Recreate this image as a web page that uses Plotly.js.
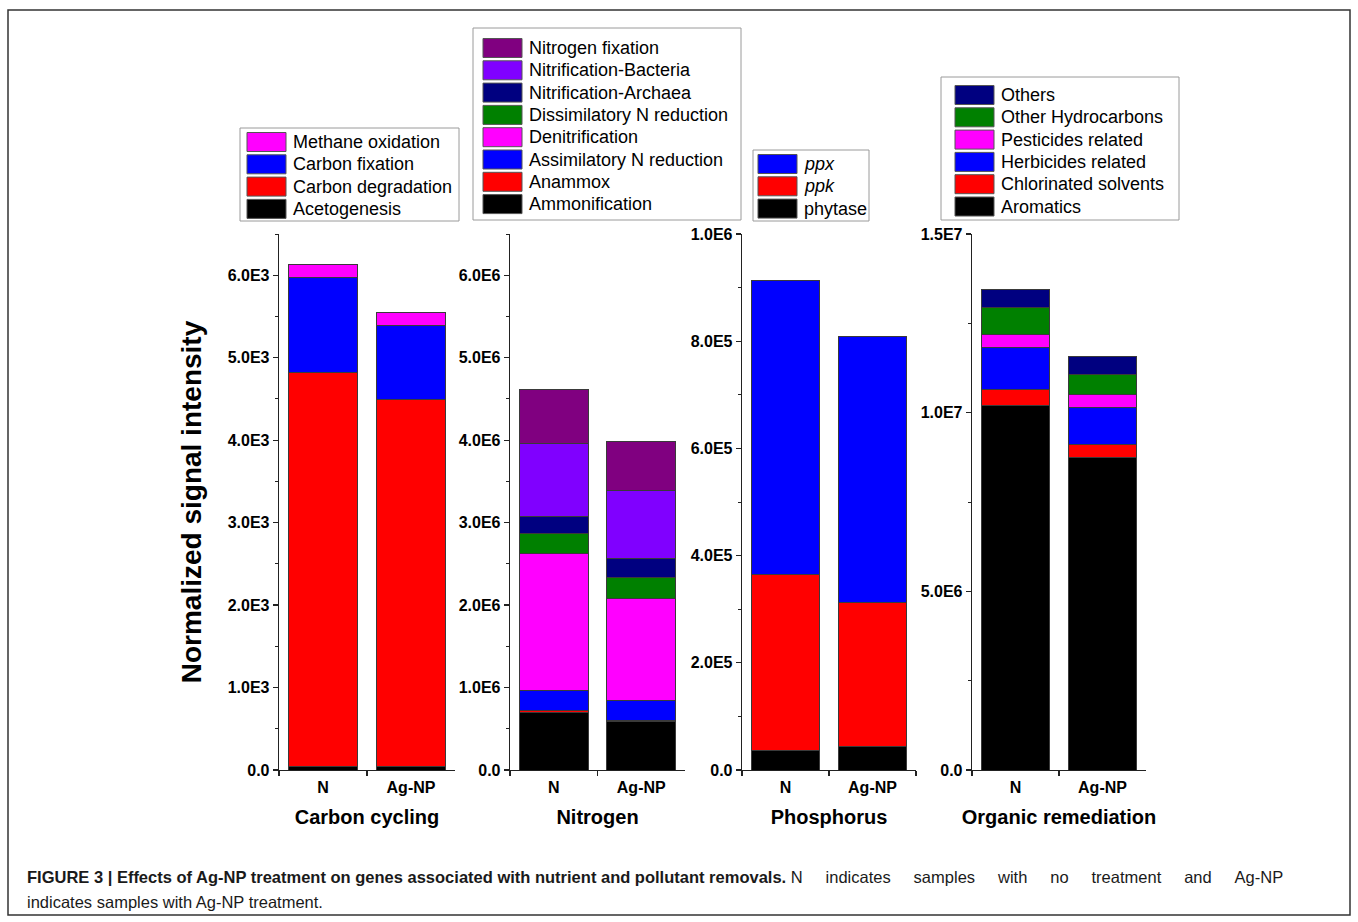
<!DOCTYPE html>
<html>
<head>
<meta charset="utf-8">
<script src="https://cdn.plot.ly/plotly-3.0.1.min.js"></script>
<style>html,body{margin:0;padding:0;background:#fff;}#chart{width:1358px;height:922px;}</style>
</head>
<body>
<div id="chart"></div>
<script>
// ---------------- DATA ----------------
const categories = ['N', 'Ag-NP'];

// Carbon cycling (stack order bottom -> top)
const carbonNames = ['Acetogenesis', 'Carbon degradation', 'Carbon fixation', 'Methane oxidation'];
const acetogenesis = [45, 45];
const carbonDegradation = [4775, 4445];
const carbonFixation = [1150, 900];
const methaneOxidation = [160, 160];

// Nitrogen
const nitrogenNames = ['Ammonification', 'Anammox', 'Assimilatory N reduction', 'Denitrification',
  'Dissimilatory N reduction', 'Nitrification-Archaea', 'Nitrification-Bacteria', 'Nitrogen fixation'];
const ammonification = [700000, 590000];
const anammox = [20000, 12000];
const assimilatoryN = [240000, 243000];
const denitrification = [1670000, 1235000];
const dissimilatoryN = [240000, 255000];
const nitrificationArchaea = [210000, 235000];
const nitrificationBacteria = [880000, 820000];
const nitrogenFixation = [660000, 590000];

// Phosphorus
const phosphorusNames = ['phytase', '<i>ppk</i>', '<i>ppx</i>'];
const phytase = [36000, 44000];
const ppk = [329000, 268000];
const ppx = [548000, 496000];

// Organic remediation
const organicNames = ['Aromatics', 'Chlorinated solvents', 'Herbicides related', 'Pesticides related',
  'Other Hydrocarbons', 'Others'];
const aromatics = [10190000, 8750000];
const chlorinatedSolvents = [470000, 360000];
const herbicides = [1170000, 1040000];
const pesticides = [360000, 360000];
const otherHydrocarbons = [750000, 550000];
const others = [520000, 500000];

// Panel titles and tick labels
const panelTitles = ['Carbon cycling', 'Nitrogen', 'Phosphorus', 'Organic remediation'];
const carbonTickVals = [0, 1000, 2000, 3000, 4000, 5000, 6000];
const carbonTickText = ['0.0', '1.0E3', '2.0E3', '3.0E3', '4.0E3', '5.0E3', '6.0E3'];
const nitrogenTickVals = [0, 1e6, 2e6, 3e6, 4e6, 5e6, 6e6];
const nitrogenTickText = ['0.0', '1.0E6', '2.0E6', '3.0E6', '4.0E6', '5.0E6', '6.0E6'];
const phosphorusTickVals = [0, 2e5, 4e5, 6e5, 8e5, 1e6];
const phosphorusTickText = ['0.0', '2.0E5', '4.0E5', '6.0E5', '8.0E5', '1.0E6'];
const organicTickVals = [0, 5e6, 1e7, 1.5e7];
const organicTickText = ['0.0', '5.0E6', '1.0E7', '1.5E7'];
const yTitle = 'Normalized signal intensity';
const captionBold = 'FIGURE 3 | Effects of Ag-NP treatment on genes associated with nutrient and pollutant removals.';
const captionRest1 = 'N indicates samples with no treatment and Ag-NP';
const captionRest2 = 'indicates samples with Ag-NP treatment.';

// ---------------- STYLE / LAYOUT ----------------
const W = 1358, H = 922;
const px = v => v / W;
const py = v => 1 - v / H;

const panels = [
  {names: carbonNames, series: [acetogenesis, carbonDegradation, carbonFixation, methaneOxidation],
   colors: ['#000000', '#FF0000', '#0000FF', '#FF00FF'],
   x0: 279, x1: 455, range: [0, 6500], tv: carbonTickVals, tt: carbonTickText, minor: 500,
   legend: {x0: 240, x1: 459, y0: 128, y1: 221, row0: 142, sw: 247}},
  {names: nitrogenNames, series: [ammonification, anammox, assimilatoryN, denitrification, dissimilatoryN,
     nitrificationArchaea, nitrificationBacteria, nitrogenFixation],
   colors: ['#000000', '#FF0000', '#0000FF', '#FF00FF', '#008000', '#000080', '#8000FF', '#800080'],
   x0: 510, x1: 685, range: [0, 6500000], tv: nitrogenTickVals, tt: nitrogenTickText, minor: 500000,
   legend: {x0: 473, x1: 741, y0: 28, y1: 220, row0: 48, sw: 483}},
  {names: phosphorusNames, series: [phytase, ppk, ppx],
   colors: ['#000000', '#FF0000', '#0000FF'],
   x0: 742, x1: 916, range: [0, 1000000], tv: phosphorusTickVals, tt: phosphorusTickText, minor: 100000,
   legend: {x0: 753, x1: 869, y0: 150, y1: 221, row0: 164, sw: 758}},
  {names: organicNames, series: [aromatics, chlorinatedSolvents, herbicides, pesticides, otherHydrocarbons, others],
   colors: ['#000000', '#FF0000', '#0000FF', '#FF00FF', '#008000', '#000080'],
   x0: 972, x1: 1146, range: [0, 15000000], tv: organicTickVals, tt: organicTickText, minor: 2500000,
   legend: {x0: 941, x1: 1179, y0: 77, y1: 220, row0: 95, sw: 955}}
];

const FONT = 'Liberation Sans, Arial, Helvetica, sans-serif';
const yDomain = [py(770), py(234)];
const traces = [];
const layout = {
  width: W, height: H,
  margin: {l: 0, r: 0, t: 0, b: 0},
  paper_bgcolor: '#ffffff', plot_bgcolor: 'rgba(0,0,0,0)',
  barmode: 'stack', bargap: 0.21,
  showlegend: false,
  font: {family: FONT, color: '#000'},
  shapes: [], annotations: []
};

const ROW = 22.3;
panels.forEach((p, i) => {
  const n = i === 0 ? '' : String(i + 1);
  const xa = 'x' + n, ya = 'y' + n;
  p.series.forEach((vals, k) => {
    traces.push({
      type: 'bar', x: categories, y: vals, name: p.names[k],
      xaxis: xa, yaxis: ya,
      marker: {color: p.colors[k], line: {color: '#3a3a3a', width: 1}},
      hovertemplate: '%{x}: %{y}<extra>' + p.names[k] + '</extra>'
    });
  });
  layout['xaxis' + n] = {
    domain: [px(p.x0), px(p.x1)], anchor: ya,
    type: 'category', range: [-0.5, 1.5],
    showline: true, linecolor: '#222', linewidth: 1.3,
    ticks: 'outside', ticklen: 5, tickcolor: '#222', tickwidth: 1.3, tickson: 'boundaries',
    ticklabelstandoff: 2,
    showgrid: false, zeroline: false, fixedrange: true,
    tickfont: {family: FONT, size: 16, color: '#000', weight: 'bold'},
    title: {text: '<b>' + panelTitles[i] + '</b>', font: {family: FONT, size: 20, color: '#000'}, standoff: 15}
  };
  layout['yaxis' + n] = {
    domain: yDomain, anchor: xa, range: p.range,
    showline: true, linecolor: '#222', linewidth: 1.3,
    ticks: 'outside', ticklen: 5, tickcolor: '#222', tickwidth: 1.3,
    tickmode: 'array', tickvals: p.tv, ticktext: p.tt,
    minor: {ticks: 'outside', ticklen: 3, tickcolor: '#222', tickwidth: 1, dtick: p.minor, tick0: 0, showgrid: false},
    showgrid: false, zeroline: false, fixedrange: true,
    tickfont: {family: FONT, size: 16, color: '#000', weight: 'bold'}
  };
  // legend box drawn from the series names / colours
  const L = p.legend;
  layout.shapes.push({type: 'rect', xref: 'paper', yref: 'paper',
    x0: px(L.x0), x1: px(L.x1), y0: py(L.y1), y1: py(L.y0),
    line: {color: '#9a9a9a', width: 1}, fillcolor: '#fff', layer: 'below'});
  const m = p.names.length;
  for (let r = 0; r < m; r++) {
    const k = m - 1 - r; // top of stack first
    const cy = L.row0 + r * ROW;
    layout.shapes.push({type: 'rect', xref: 'paper', yref: 'paper',
      x0: px(L.sw), x1: px(L.sw + 39), y0: py(cy + 9.5), y1: py(cy - 9.5),
      line: {color: '#555', width: 1}, fillcolor: p.colors[k]});
    layout.annotations.push({xref: 'paper', yref: 'paper', x: px(L.sw + 44), y: py(cy),
      xanchor: 'left', yanchor: 'middle', showarrow: false, text: p.names[k],
      font: {family: FONT, size: 18, color: '#000'}});
  }
});

layout.yaxis.title = {text: '<b>' + yTitle + '</b>', font: {family: FONT, size: 28, color: '#000'}, standoff: 18};

// figure frame
layout.shapes.push({type: 'rect', xref: 'paper', yref: 'paper',
  x0: px(8), x1: px(1350), y0: py(915), y1: py(10), line: {color: '#333', width: 1.5}, layer: 'below'});

// caption (first line is justified in the original, so its word gaps are widened)
const CAPFONT = 'Liberation Sans, Arial, Helvetica, sans-serif';
const justifiedGap = ' \u00A0\u00A0\u00A0\u00A0';
layout.annotations.push({xref: 'paper', yref: 'paper', x: px(25), y: py(877), xanchor: 'left', yanchor: 'middle',
  showarrow: false, align: 'left',
  text: '<b>' + captionBold + '</b> ' + captionRest1.split(' ').join(justifiedGap),
  font: {family: CAPFONT, size: 16.5, color: '#1a1a1a'}});
layout.annotations.push({xref: 'paper', yref: 'paper', x: px(25), y: py(902), xanchor: 'left', yanchor: 'middle',
  showarrow: false, align: 'left', text: captionRest2,
  font: {family: CAPFONT, size: 16.5, color: '#1a1a1a'}});

Plotly.newPlot('chart', traces, layout, {staticPlot: true, displayModeBar: false});
</script>
</body>
</html>
